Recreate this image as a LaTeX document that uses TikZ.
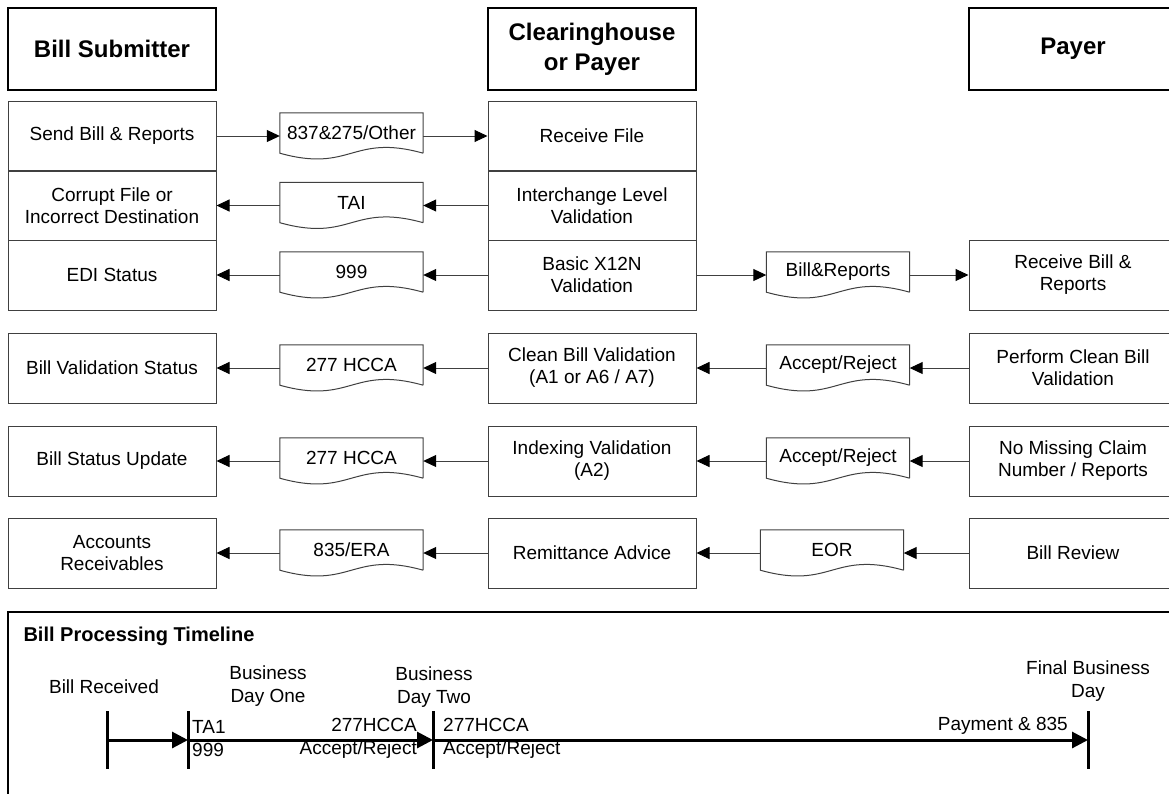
\documentclass[tikz,border=0pt]{standalone}
\usepackage{fontspec}
\setmainfont{Liberation Sans}
\usetikzlibrary{arrows.meta}

\tikzset{
  hdr/.style={draw, line width=2pt, minimum width=208pt, minimum height=82pt, align=center,
    font=\fontsize{24}{30}\selectfont\bfseries},
  stepbox/.style={draw=black!75, line width=1pt, minimum width=208pt, minimum height=70pt,
    align=center, inner sep=2pt, font=\fontsize{19}{22}\selectfont},
  doc/.style={minimum width=143pt, minimum height=40pt, inner sep=1pt, align=center,
    font=\fontsize{19}{22}\selectfont},
  docline/.style={draw=black!75, line width=1pt},
  flow/.style={draw=black!75, line width=1pt, -{Triangle[length=13pt,width=12pt,color=black]}},
  tick/.style={line width=3pt},
  tlarrow/.style={line width=3pt, -{Triangle[length=16pt,width=16pt]}},
  tltext/.style={font=\fontsize{19}{23}\selectfont, inner sep=0pt}
}

\begin{document}
\begin{tikzpicture}[x=1pt, y=-1pt]
    \useasboundingbox (0,0) rectangle (1169,793);
    \clip (0,0) rectangle (1169,793);

    % Column headers
    \node[hdr] (hsub) at (112,49) {Bill Submitter};
    \node[hdr] (hch) at (592,49) {Clearinghouse\\or Payer};
    \node[hdr] (hpay) at (1073,49) {Payer};

    % Bill submitter steps
    \node[stepbox] (l1) at (112,136) {Send Bill \& Reports};
    \node[stepbox] (l2) at (112,205.5) {Corrupt File or\\Incorrect Destination};
    \node[stepbox] (l3) at (112,275) {EDI Status};
    \node[stepbox] (l4) at (112,368) {Bill Validation Status};
    \node[stepbox] (l5) at (112,461) {Bill Status Update};
    \node[stepbox] (l6) at (112,553) {Accounts\\Receivables};

    % Clearinghouse steps
    \node[stepbox] (m1) at (592,136) {Receive File};
    \node[stepbox] (m2) at (592,205.5) {Interchange Level\\Validation};
    \node[stepbox] (m3) at (592,275) {Basic X12N\\Validation};
    \node[stepbox] (m4) at (592,368) {Clean Bill Validation\\(A1 or A6 / A7)};
    \node[stepbox] (m5) at (592,461) {Indexing Validation\\(A2)};
    \node[stepbox] (m6) at (592,553) {Remittance Advice};

    % Payer steps
    \node[stepbox] (r3) at (1073,275) {Receive Bill \&\\Reports};
    \node[stepbox] (r4) at (1073,368) {Perform Clean Bill\\Validation};
    \node[stepbox] (r5) at (1073,461) {No Missing Claim\\Number / Reports};
    \node[stepbox] (r6) at (1073,553) {Bill Review};

    % Documents
    \node[doc] (d1) at (351.5,133) {837\&275/Other};
    \node[doc] (d2) at (351.5,202.5) {TAI};
    \node[doc] (d3) at (351.5,272) {999};
    \node[doc] (d4) at (838,272) {Bill\&Reports};
    \node[doc] (d5) at (838,365) {Accept/Reject};
    \node[doc] (d6) at (351.5,365) {277 HCCA};
    \node[doc] (d7) at (838,458) {Accept/Reject};
    \node[doc] (d8) at (351.5,458) {277 HCCA};
    \node[doc] (d9) at (832,550) {EOR};
    \node[doc] (d10) at (351.5,550) {835/ERA};
    \foreach \d in {d1,d2,d3,d4,d5,d6,d7,d8,d9,d10}
      \draw[docline] (\d.south east) -- (\d.north east) -- (\d.north west) -- (\d.south west)
        .. controls ([yshift=-20pt]\d.south) and ([yshift=20pt]\d.south) .. (\d.south east);

    % Flows
    \draw[flow] (l1.east) -- (l1.east -| d1.west);
    \draw[flow] (d1.east |- m1.west) -- (m1.west);
    \draw[flow] (m2.west) -- (m2.west -| d2.east);
    \draw[flow] (d2.west |- l2.east) -- (l2.east);
    \draw[flow] (m3.west) -- (m3.west -| d3.east);
    \draw[flow] (d3.west |- l3.east) -- (l3.east);
    \draw[flow] (m3.east) -- (m3.east -| d4.west);
    \draw[flow] (d4.east |- r3.west) -- (r3.west);
    \draw[flow] (r4.west) -- (r4.west -| d5.east);
    \draw[flow] (d5.west |- m4.east) -- (m4.east);
    \draw[flow] (m4.west) -- (m4.west -| d6.east);
    \draw[flow] (d6.west |- l4.east) -- (l4.east);
    \draw[flow] (r5.west) -- (r5.west -| d7.east);
    \draw[flow] (d7.west |- m5.east) -- (m5.east);
    \draw[flow] (m5.west) -- (m5.west -| d8.east);
    \draw[flow] (d8.west |- l5.east) -- (l5.east);
    \draw[flow] (r6.west) -- (r6.west -| d9.east);
    \draw[flow] (d9.west |- m6.east) -- (m6.east);
    \draw[flow] (m6.west) -- (m6.west -| d10.east);
    \draw[flow] (d10.west |- l6.east) -- (l6.east);

    % Timeline
    \draw[line width=2pt] (8,612) rectangle (1180,800);
    \node[anchor=west, font=\fontsize{20}{24}\selectfont\bfseries] (tltitle) at (20,636) {Bill Processing Timeline};
    \coordinate (t0) at (107,740);
    \coordinate (t1) at (188,740);
    \coordinate (t2) at (433,740);
    \coordinate (t3) at (1088,740);
    \foreach \t in {t0,t1,t2,t3}
      \draw[tick] ([yshift=29pt]\t) -- ([yshift=-29pt]\t);
    \draw[tlarrow] (t0) -- (t1);
    \draw[tlarrow] (t1) -- (t2);
    \draw[tlarrow] (t2) -- (t3);

    \node[tltext] (tbill) at (104,687) {Bill Received};
    \node[tltext, align=center] (tday1) at (268,686) {Business\\Day One};
    \node[tltext, align=center] (tday2) at (434,687) {Business\\Day Two};
    \node[tltext, align=center] (tfinal) at (1088,681) {Final Business\\Day};
    \node[tltext, anchor=west, align=left] (tta1) at (192,738.5) {TA1\\999};
    \node[tltext, anchor=east, align=right] (thcca1) at (417,738.5) {277HCCA\\Accept/Reject};
    \node[tltext, anchor=west, align=left] (thcca2) at (443,738.5) {277HCCA\\Accept/Reject};
    \node[tltext, anchor=east] (tpay) at (1068,726) {Payment \& 835};
\end{tikzpicture}
\end{document}
